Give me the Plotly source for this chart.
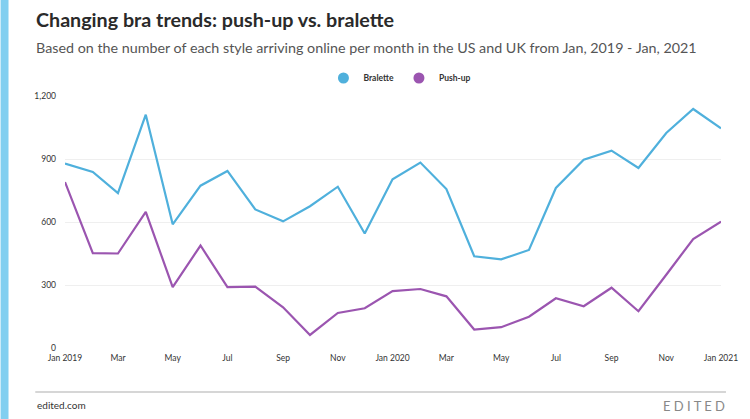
import plotly.graph_objects as go

months = ["2019-01-01","2019-02-01","2019-03-01","2019-04-01","2019-05-01","2019-06-01",
          "2019-07-01","2019-08-01","2019-09-01","2019-10-01","2019-11-01","2019-12-01",
          "2020-01-01","2020-02-01","2020-03-01","2020-04-01","2020-05-01","2020-06-01",
          "2020-07-01","2020-08-01","2020-09-01","2020-10-01","2020-11-01","2020-12-01",
          "2021-01-01"]
bralette = [878, 838, 738, 1111, 589, 773, 843, 660, 603, 675, 768, 545,
            803, 883, 757, 437, 422, 467, 762, 897, 940, 857, 1024, 1138, 1046]
pushup = [790, 452, 450, 648, 290, 488, 290, 292, 194, 62, 167, 189,
          271, 281, 246, 88, 99, 149, 237, 199, 287, 175, 349, 519, 602]

tick_vals = ["2019-01-01","2019-03-01","2019-05-01","2019-07-01","2019-09-01","2019-11-01",
             "2020-01-01","2020-03-01","2020-05-01","2020-07-01","2020-09-01","2020-11-01",
             "2021-01-01"]
tick_text = ["Jan 2019","Mar","May","Jul","Sep","Nov","Jan 2020","Mar","May","Jul","Sep","Nov","Jan 2021"]

BLUE = "#4fb0dc"
PURPLE = "#9b55b0"
FONT = "Lato"

fig = go.Figure()
fig.add_trace(go.Scatter(x=months, y=bralette, mode="lines", name="Bralette",
                         line=dict(color=BLUE, width=2.2), showlegend=False))
fig.add_trace(go.Scatter(x=months, y=pushup, mode="lines", name="Push-up",
                         line=dict(color=PURPLE, width=2.2), showlegend=False))
# legend entries with circle markers
fig.add_trace(go.Scatter(x=[None], y=[None], mode="markers", name="<b>Bralette</b>",
                         marker=dict(color=BLUE, size=11)))
fig.add_trace(go.Scatter(x=[None], y=[None], mode="markers", name="<b>Push-up</b>",
                         marker=dict(color=PURPLE, size=11)))

L, R, T, B = 65, 23, 96, 71
W, H = 750, 419
pw, ph = W - L - R, H - T - B
def px(x): return (x - L) / pw
def py(y): return (H - B - y) / ph

fig.update_layout(
    width=W, height=H,
    margin=dict(l=L, r=R, t=T, b=B),
    paper_bgcolor="white", plot_bgcolor="white",
    font=dict(family=FONT, color="#333"),
    showlegend=True,
    legend=dict(orientation="h", x=px(403), xanchor="center", y=py(78), yanchor="middle",
                font=dict(size=8.5, color="#333"), itemwidth=30, bgcolor="rgba(0,0,0,0)"),
    xaxis=dict(type="date", range=["2019-01-01", "2021-01-01"], tickvals=tick_vals,
               ticktext=tick_text, showgrid=False, zeroline=False, showline=False,
               tickfont=dict(size=8.5, color="#333"), ticks="", ticklen=0,
               ticklabelstandoff=3),
    yaxis=dict(range=[0, 1200], dtick=300, tickformat=",", showgrid=True,
               gridcolor="#efefef", gridwidth=1, zeroline=False, showline=False,
               tickfont=dict(size=8.5, color="#333"), ticks="", ticklabelstandoff=8),
    shapes=[
        dict(type="rect", xref="paper", yref="paper", x0=px(0), x1=px(8), y0=py(H), y1=py(0),
             fillcolor="#82cff0", line=dict(width=0), layer="below"),
        dict(type="line", xref="paper", yref="paper", x0=px(35), x1=px(732), y0=py(392), y1=py(392),
             line=dict(color="#c8c8c8", width=1.5)),
    ],
    annotations=[
        dict(text="<b>Changing bra trends: push-up vs. bralette</b>", xref="paper", yref="paper",
             x=px(34), y=py(20), xanchor="left", yanchor="middle", showarrow=False,
             font=dict(size=19.7, color="#2a2a2a", family=FONT)),
        dict(text="Based on the number of each style arriving online per month in the US and UK from Jan, 2019 - Jan, 2021",
             xref="paper", yref="paper", x=px(34), y=py(47), xanchor="left", yanchor="middle",
             showarrow=False, font=dict(size=14.3, color="#555", family=FONT)),
        dict(text="edited.com", xref="paper", yref="paper", x=px(35), y=py(405), xanchor="left",
             yanchor="middle", showarrow=False, font=dict(size=10, color="#333", family=FONT)),
        dict(text="E D I T E D", xref="paper", yref="paper", x=px(733), y=py(406), xanchor="right",
             yanchor="middle", showarrow=False, font=dict(size=13, color="#888", family=FONT)),
    ],
)

fig.write_html("out.html", config={"displayModeBar": False},
               post_script="document.body.style.margin='0';document.body.style.padding='0';document.body.style.overflow='hidden';")
